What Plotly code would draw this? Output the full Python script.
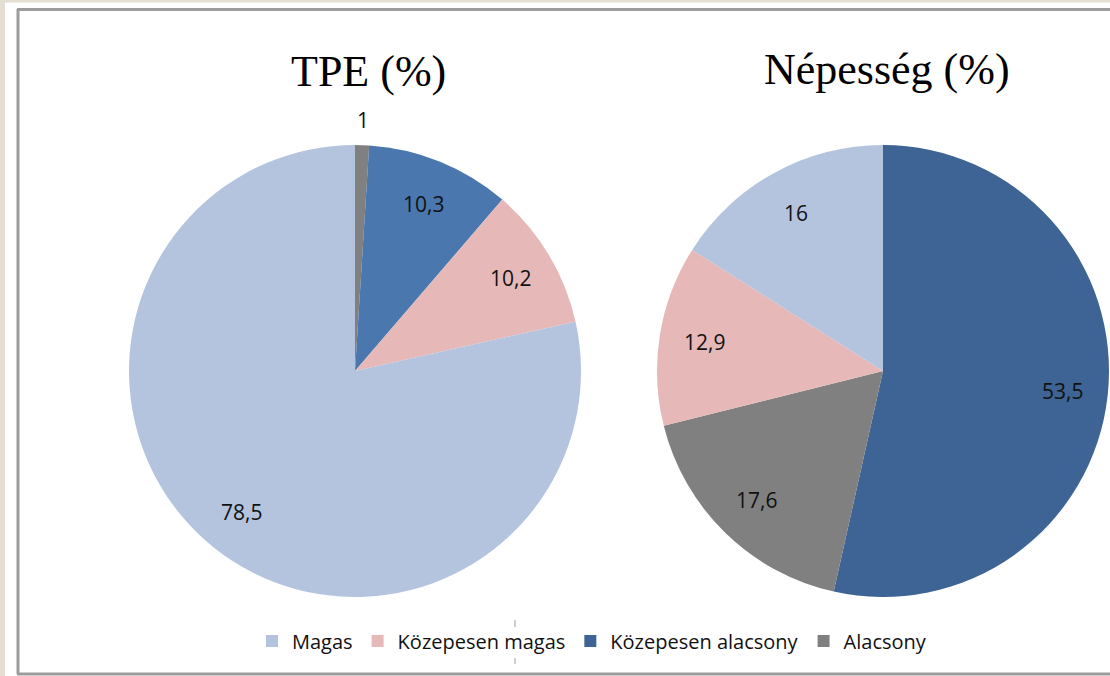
import numpy as np
import plotly.graph_objects as go

# ---------------- data ----------------
categories = ["Magas", "Közepesen magas", "Közepesen alacsony", "Alacsony"]

tpe_labels = ["Alacsony", "Közepesen alacsony", "Közepesen magas", "Magas"]
tpe_values = [1, 10.3, 10.2, 78.5]

nep_labels = ["Közepesen alacsony", "Alacsony", "Közepesen magas", "Magas"]
nep_values = [53.5, 17.6, 12.9, 16]

titles = ["TPE (%)", "Népesség (%)"]

# ---------------- styles ----------------
W, H = 1110, 676
legend_colors = {"Magas": "#B4C4DE", "Közepesen magas": "#E6B9B8",
                 "Közepesen alacsony": "#3D6494", "Alacsony": "#808080"}
tpe_colors = {"Magas": "#B4C4DE", "Közepesen magas": "#E6B9B8",
              "Közepesen alacsony": "#4A77AE", "Alacsony": "#808080"}
nep_colors = legend_colors

LABEL_FONT = dict(family="'Open Sans', Lato, sans-serif", size=21, color="#111111")
TITLE_FONT = dict(family="'Liberation Serif', 'DejaVu Serif', serif", size=44, color="#000000")


def px(x):
    return x / W


def py(y):
    return 1 - y / H


# pie geometry (pixels)
R = 226
pies = [
    dict(labels=tpe_labels, values=tpe_values, colors=tpe_colors, cx=355, cy=371,
         title=titles[0], tx=368, ty=72),
    dict(labels=nep_labels, values=nep_values, colors=nep_colors, cx=883, cy=371,
         title=titles[1], tx=887, ty=69),
]

fig = go.Figure()
annotations = []

for p in pies:
    x0, x1 = p["cx"] - R, min(p["cx"] + R, W)
    y0, y1 = p["cy"] - R, p["cy"] + R
    fig.add_trace(go.Pie(
        labels=p["labels"], values=p["values"],
        marker=dict(colors=[p["colors"][l] for l in p["labels"]],
                    line=dict(width=0)),
        sort=False, direction="clockwise", rotation=0,
        textinfo="none", showlegend=False, hoverinfo="label+value",
        domain=dict(x=[px(x0), px(x1)], y=[py(y1), py(y0)]),
    ))
    vals = np.array(p["values"], dtype=float)
    mids = (np.cumsum(vals) - vals / 2) / vals.sum() * 2 * np.pi
    for v, a in zip(vals, mids):
        rf = 1.11 if v < 3 else 0.8
        lx = p["cx"] + rf * R * np.sin(a)
        ly = p["cy"] - rf * R * np.cos(a)
        txt = ("%g" % v).replace(".", ",")
        annotations.append(dict(x=px(lx), y=py(ly), xref="paper", yref="paper",
                                text=txt, showarrow=False, font=LABEL_FONT,
                                xanchor="center", yanchor="middle"))
    annotations.append(dict(x=px(p["tx"]), y=py(p["ty"]), xref="paper", yref="paper",
                            text=p["title"], showarrow=False, font=TITLE_FONT,
                            xanchor="center", yanchor="middle"))

# legend entries
for c in categories:
    fig.add_trace(go.Scatter(
        x=[None], y=[None], mode="markers", name=c,
        marker=dict(symbol="square", size=12, color=legend_colors[c]),
        showlegend=True, hoverinfo="skip",
    ))

# frame decoration
shapes = [
    dict(type="rect", xref="paper", yref="paper", x0=0, x1=px(5), y0=0, y1=1,
         fillcolor="#E5DFD3", line=dict(width=0), layer="below"),
    dict(type="rect", xref="paper", yref="paper", x0=0, x1=1, y0=py(2.5), y1=1,
         fillcolor="#E5DFD3", line=dict(width=0), layer="below"),
    dict(type="line", xref="paper", yref="paper", x0=px(18), x1=px(18), y0=py(9), y1=py(674),
         line=dict(color="#9C9C9C", width=3)),
    dict(type="line", xref="paper", yref="paper", x0=px(17), x1=1, y0=py(9.5), y1=py(9.5),
         line=dict(color="#9C9C9C", width=3)),
    dict(type="line", xref="paper", yref="paper", x0=px(17), x1=1, y0=py(674), y1=py(674),
         line=dict(color="#9C9C9C", width=3)),
    dict(type="line", xref="paper", yref="paper", x0=px(515), x1=px(515), y0=py(620), y1=py(627),
         line=dict(color="#A0A0A0", width=1)),
    dict(type="line", xref="paper", yref="paper", x0=px(515), x1=px(515), y0=py(658), y1=py(664),
         line=dict(color="#A0A0A0", width=1)),
]

fig.update_layout(
    width=W, height=H,
    margin=dict(l=0, r=0, t=0, b=0),
    paper_bgcolor="#FFFFFF", plot_bgcolor="#FFFFFF",
    xaxis=dict(visible=False), yaxis=dict(visible=False),
    annotations=annotations,
    shapes=shapes,
    legend=dict(orientation="h", x=px(592), y=py(641), xanchor="center", yanchor="middle",
                font=dict(family="'Open Sans', Lato, sans-serif", size=20, color="#111111"),
                itemclick=False, itemdoubleclick=False, bgcolor="rgba(0,0,0,0)",
                tracegroupgap=0, itemwidth=30),
    showlegend=True,
)

fig.write_html("out.html", config={"displayModeBar": False},
               post_script="document.body.style.margin='0';document.body.style.overflow='hidden';")
